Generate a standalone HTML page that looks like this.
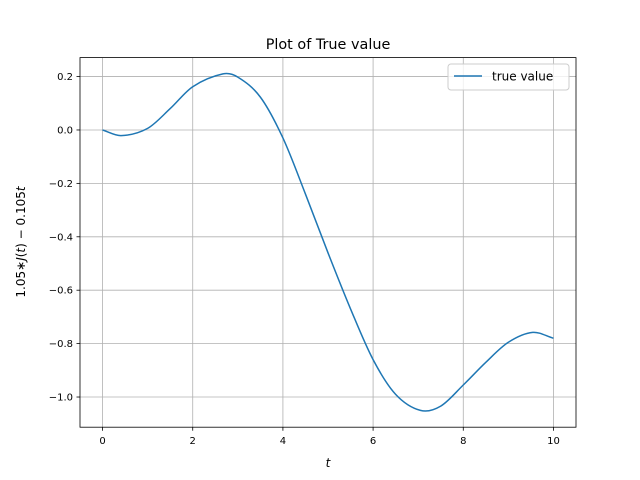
<!DOCTYPE html>
<html><head><meta charset="utf-8"><style>
body{margin:0;background:#fff;}
svg{display:block;font-family:"DejaVu Sans","Liberation Sans",sans-serif;}
</style></head><body>
<svg id="chart" width="640" height="480" viewBox="0 0 640 480" xmlns="http://www.w3.org/2000/svg">
<rect width="640" height="480" fill="#fff"/>
<g id="grid"></g>
<g id="series"></g>
<rect x="80" y="57.6" width="496" height="369.6" fill="none" stroke="#000" stroke-width="0.8"/>
<g id="ticks"></g>
<text x="328" y="49" font-size="14.4" text-anchor="middle">Plot of True value</text>
<text x="328" y="467" font-size="12" font-style="italic" text-anchor="middle">t</text>
<text transform="translate(25,242) rotate(-90)" font-size="12" text-anchor="middle">1.05∗<tspan font-style="italic">J</tspan>(<tspan font-style="italic">t</tspan>) − 0.105<tspan font-style="italic">t</tspan></text>
<g>
<rect x="448" y="64" width="121" height="26" rx="3" fill="#fff" fill-opacity="0.8" stroke="#ccc"/>
<line x1="454" y1="76" x2="482" y2="76" stroke="#1f77b4" stroke-width="1.5"/>
<text x="492" y="80.5" font-size="12">true value</text>
</g>
</svg>
<script>
const tValues=[0,0.41,1,1.5,2,2.67,3,3.5,4,4.5,5,5.5,6,6.5,7.05,7.5,8,8.5,9,9.54,10];
const yValues=[0,-0.021,0.006,0.08,0.162,0.21,0.198,0.123,-0.03,-0.24,-0.46,-0.67,-0.86,-0.99,-1.05,-1.034,-0.955,-0.87,-0.795,-0.758,-0.78];
const xTicks=[0,2,4,6,8,10];
const yTicks=[0.2,0,-0.2,-0.4,-0.6,-0.8,-1.0];
const yTickLabels=["0.2","0.0","−0.2","−0.4","−0.6","−0.8","−1.0"];
const NS="http://www.w3.org/2000/svg";
const L=80,R=576,T=57.6,B=427.2,xmin=-0.5,xmax=10.5,ymin=-1.113,ymax=0.271;
const xs=v=>L+(v-xmin)/(xmax-xmin)*(R-L);
const ys=v=>B-(v-ymin)/(ymax-ymin)*(B-T);
function mk(tag,attrs,parent){const e=document.createElementNS(NS,tag);for(const k in attrs)e.setAttribute(k,attrs[k]);parent.appendChild(e);return e;}
const grid=document.getElementById('grid'),ticks=document.getElementById('ticks'),series=document.getElementById('series');
xTicks.forEach(v=>{const x=xs(v);
const g=mk('line',{x1:x,x2:x,y1:T,y2:B,stroke:'#b0b0b0','stroke-width':0.8},grid);


const t=mk('line',{x1:x,x2:x,y1:B,y2:B+3.5,stroke:'#000','stroke-width':0.8},ticks);


const l=mk('text',{x:x,y:B+17,'font-size':10,'text-anchor':'middle'},ticks);l.textContent=String(v);


});
yTicks.forEach((v,i)=>{const y=ys(v);
const g=mk('line',{x1:L,x2:R,y1:y,y2:y,stroke:'#b0b0b0','stroke-width':0.8},grid);


const t=mk('line',{x1:L-3.5,x2:L,y1:y,y2:y,stroke:'#000','stroke-width':0.8},ticks);


const l=mk('text',{x:L-7,y:y+3.5,'font-size':10,'text-anchor':'end'},ticks);l.textContent=yTickLabels[i];


});
const P=tValues.map((t,i)=>[xs(t),ys(yValues[i])]);
let d='M'+P[0][0]+','+P[0][1];
for(let i=0;i<P.length-1;i++){const p0=P[Math.max(0,i-1)],p1=P[i],p2=P[i+1],p3=P[Math.min(P.length-1,i+2)];
const h=p2[0]-p1[0];
const m1=(p2[1]-p0[1])/(p2[0]-p0[0]||1), m2=(p3[1]-p1[1])/(p3[0]-p1[0]||1);
d+=` C${p1[0]+h/3},${p1[1]+m1*h/3} ${p2[0]-h/3},${p2[1]-m2*h/3} ${p2[0]},${p2[1]}`;}
const line=mk('path',{d:d,fill:'none',stroke:'#1f77b4','stroke-width':1.5},series);


</script>
</body></html>
